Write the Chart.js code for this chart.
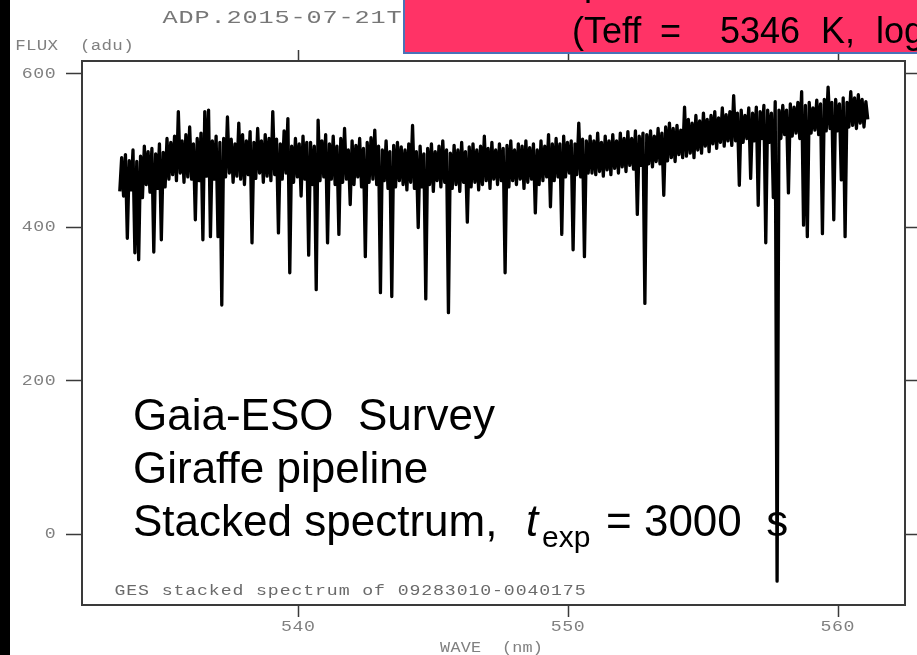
<!DOCTYPE html>
<html>
<head>
<meta charset="utf-8">
<script src="https://cdn.jsdelivr.net/npm/chart.js@4.4.1/dist/chart.umd.min.js"></script>
<style>
  html, body { margin: 0; padding: 0; background: #fff; }
  canvas { display: block; }
</style>
</head>
<body>
<canvas id="spec" width="917" height="655"></canvas>
<script>
// wavelength grid of the stacked spectrum (nm)
const waveStart = 533.4;
const waveStep = 0.07;

// flux (adu) in chunks
const fluxA = [446,490,440,494,385,486,448,500,366,485,357,492,438,505,455,498,445,502,367,495,
  450,508,383,497,452,515,462,510,468,518,460,550,470,512,458,520,465,530,462,508,
  409,515,460,522,383,550,466,552,387,512];
const fluxB = [462,518,387,510,298,515,465,543,470,514,458,508,466,535,462,520,455,512,468,524,
  379,510,463,528,470,512,458,520,466,515,460,550,468,514,392,508,462,525,470,541,
  340,505,458,515,465,508,440,518,462,510];
const fluxC = [363,510,455,505,318,539,460,512,465,520,379,508,462,518,455,505,390,515,458,528,
  462,500,429,512,455,506,465,515,452,502,361,510,458,516,462,526,455,505,314,500,
  460,512,450,498,309,506,452,510,460,504];
const fluxD = [455,500,448,508,458,532,450,498,399,505,452,495,306,502,455,508,446,498,460,505,
  452,512,458,500,288,496,450,506,455,500,446,510,458,498,406,504,452,508,458,500,
  448,505,455,518,460,502,450,510,462,500];
const fluxE = [455,508,460,502,340,506,452,512,460,500,455,508,462,505,450,512,458,503,462,508,
  418,500,455,512,460,505,465,520,426,508,460,515,465,508,390,518,465,510,470,512,
  370,508,468,535,465,514,361,512,470,518];
const fluxF = [470,512,468,522,472,510,466,518,474,512,468,520,476,512,470,522,478,515,472,524,
  480,515,475,525,416,518,480,522,300,520,482,525,478,518,485,528,482,522,441,530,
  486,535,490,528,485,532,494,526,490,556];
const fluxG = [492,540,496,535,490,545,500,538,496,548,505,540,498,545,508,550,502,542,510,555,
  505,546,512,550,506,571,512,548,454,552,510,545,515,555,463,548,512,556,428,550,
  515,558,379,552,510,548,438,563,-62,552];
const fluxH = [515,558,520,552,444,560,518,556,522,562,515,576,402,558,387,562,522,555,526,565,
  520,560,391,566,525,582,528,562,409,566,525,560,461,568,387,562,530,576,532,568,
  528,572,535,566,530,563,540];

const flux = [].concat(fluxA, fluxB, fluxC, fluxD, fluxE, fluxF, fluxG, fluxH);
const points = flux.map((f, i) => ({ x: waveStart + i * waveStep, y: f }));

const yTicks = [0, 200, 400, 600];
const xTicks = [540, 550, 560];

const yLabel = 'FLUX  (adu)';
const xLabel = 'WAVE  (nm)';
const fileTitle = 'ADP.2015-07-21T0';
const footNote = 'GES stacked spectrum of 09283010-0040175';
const bigLines = ['Gaia-ESO  Survey', 'Giraffe pipeline'];

// fixed pitch, stretched glyphs, like the old plotting package
function pitchText(ctx, str, x, y, pitch, align, sx) {
  let start = x;
  if (align === 'right') start = x - pitch * str.length;
  if (align === 'center') start = x - pitch * str.length / 2;
  ctx.textAlign = 'center';
  for (let i = 0; i < str.length; i++) {
    ctx.save();
    ctx.translate(start + pitch * (i + 0.5), y);
    ctx.scale(sx, 1);
    ctx.fillText(str[i], 0, 0);
    ctx.restore();
  }
}

const frame = {
  id: 'frame',
  afterDraw(chart) {
    const ctx = chart.ctx;
    const a = chart.chartArea;
    const xs = chart.scales.x, ys = chart.scales.y;
    ctx.save();

    // left dark strip
    ctx.fillStyle = '#000';
    ctx.fillRect(0, 0, 10, 655);

    ctx.strokeStyle = '#3a3a3a';
    ctx.lineWidth = 2;
    ctx.strokeRect(a.left, a.top, a.right - a.left, a.bottom - a.top);

    ctx.lineWidth = 1.5;
    ctx.beginPath();
    yTicks.forEach(v => {
      const y = Math.round(ys.getPixelForValue(v)) + 0.5;
      ctx.moveTo(a.left - 16, y); ctx.lineTo(a.left, y);
      ctx.moveTo(a.right, y); ctx.lineTo(a.right + 14, y);
    });
    xTicks.forEach(v => {
      const x = Math.round(xs.getPixelForValue(v)) + 0.5;
      ctx.moveTo(x, a.top - 11); ctx.lineTo(x, a.top);
      ctx.moveTo(x, a.bottom); ctx.lineTo(x, a.bottom + 12);
    });
    ctx.stroke();

    ctx.fillStyle = '#808080';
    ctx.textBaseline = 'middle';
    ctx.font = '14px "Liberation Mono"';
    yTicks.forEach(v => pitchText(ctx, String(v), 56, ys.getPixelForValue(v) + 1, 11.5, 'right', 1.3));
    xTicks.forEach(v => pitchText(ctx, String(v), xs.getPixelForValue(v), 627, 11.5, 'center', 1.3));
    pitchText(ctx, yLabel, 15, 46, 10.8, 'left', 1.25);
    pitchText(ctx, xLabel, 440, 648, 10.3, 'left', 1.2);
    ctx.fillStyle = '#6a6a6a';
    pitchText(ctx, footNote, 114, 591, 11.8, 'left', 1.3);
    ctx.fillStyle = '#777';
    ctx.font = '18px "Liberation Mono"';
    pitchText(ctx, fileTitle, 162, 18, 16, 'left', 1.4);

    // overlay caption
    ctx.fillStyle = '#000';
    ctx.textBaseline = 'alphabetic';
    ctx.textAlign = 'left';
    ctx.font = '44px "Liberation Sans"';
    ctx.fillText(bigLines[0], 133, 430);
    ctx.fillText(bigLines[1], 133, 483);
    ctx.fillText('Stacked spectrum,', 133, 536);
    ctx.font = 'italic 44px "Liberation Sans"';
    ctx.fillText('t', 526, 536);
    ctx.font = '30px "Liberation Sans"';
    ctx.fillText('exp', 542, 547);
    ctx.font = '44px "Liberation Sans"';
    ctx.fillText('= 3000  s', 606, 536);

    // red label box at top
    ctx.fillStyle = '#ff3366';
    ctx.fillRect(403, -5, 530, 58);
    ctx.strokeStyle = '#4a72b8';
    ctx.lineWidth = 2;
    ctx.strokeRect(404, -5, 530, 58);
    ctx.fillStyle = '#000';
    ctx.font = '36px "Liberation Sans"';
    ctx.fillText('p', 584, -5);
    ctx.fillText('(Teff', 572, 43);
    ctx.fillText('=', 660, 43);
    ctx.fillText('5346', 720, 43);
    ctx.fillText('K,', 821, 43);
    ctx.fillText('log', 876, 43);
    ctx.restore();
  }
};

new Chart(document.getElementById('spec'), {
  type: 'line',
  data: {
    datasets: [{
      data: points,
      borderColor: '#000',
      borderWidth: 3.3,
      borderJoinStyle: 'round',
      pointRadius: 0,
      tension: 0,
      fill: false
    }]
  },
  options: {
    responsive: false,
    animation: false,
    devicePixelRatio: 1,
    layout: { padding: { left: 82, right: 12, top: 61, bottom: 50 } },
    plugins: { legend: { display: false }, tooltip: { enabled: false } },
    scales: {
      x: { type: 'linear', display: false, min: 532, max: 562.5 },
      y: { type: 'linear', display: false, min: -93, max: 616 }
    }
  },
  plugins: [frame]
});
</script>
</body>
</html>
